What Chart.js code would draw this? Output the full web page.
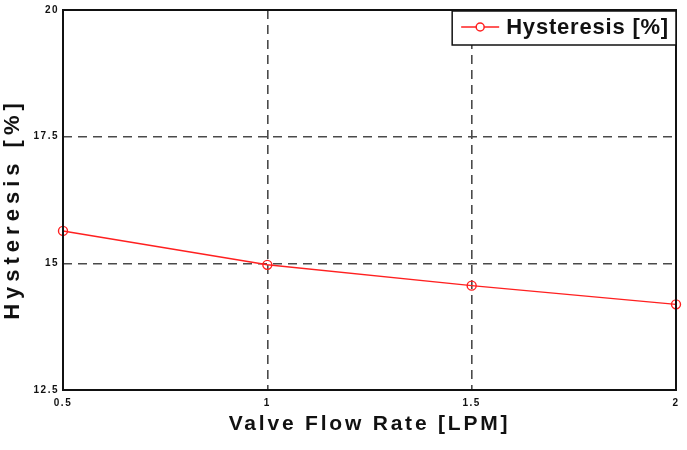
<!DOCTYPE html>
<html>
<head>
<meta charset="utf-8">
<script src="https://cdn.jsdelivr.net/npm/chart.js@4/dist/chart.umd.min.js"></script>
<style>
  html, body { margin: 0; padding: 0; background: #fff; }
  #wrap { width: 687px; height: 450px; }
</style>
</head>
<body>
<div id="wrap"><canvas id="c" width="687" height="450"></canvas></div>
<script>
const flowRates = [0.5, 1, 1.5, 2];
const hysteresis = [15.64, 14.97, 14.56, 14.19];
const xTicks = [0.5, 1, 1.5, 2];
const yTicks = [12.5, 15, 17.5, 20];
const seriesLabel = 'Hysteresis [%]';
const xTitle = 'Valve Flow Rate [LPM]';
const yTitle = 'Hysteresis [%]';

const RED = '#ff2020';
const FONT = '"Liberation Sans", Arial, sans-serif';

const spacing = {
  id: 'spacing',
  beforeDraw(chart) { chart.ctx.letterSpacing = '1.5px'; }
};

const decor = {
  id: 'decor',
  afterDraw(chart) {
    const { ctx, chartArea: a } = chart;
    ctx.save();
    // plot box
    ctx.strokeStyle = '#111';
    ctx.lineWidth = 2;
    ctx.setLineDash([]);
    ctx.strokeRect(a.left, a.top, a.right - a.left, a.bottom - a.top);

    // axis titles
    ctx.fillStyle = '#111';
    ctx.font = 'bold 21px ' + FONT;
    ctx.letterSpacing = '2.8px';
    ctx.textAlign = 'center';
    ctx.textBaseline = 'middle';
    ctx.fillText(xTitle, (a.left + a.right) / 2, 424);
    ctx.save();
    ctx.translate(13, 209);
    ctx.rotate(-Math.PI / 2);
    ctx.font = 'bold 22px ' + FONT;
    ctx.letterSpacing = '5px';
    ctx.fillText(yTitle, 0, 0);
    ctx.restore();

    // legend box
    const ds = chart.data.datasets[0];
    ctx.font = 'bold 22px ' + FONT;
    ctx.letterSpacing = '0.8px';
    const tw = ctx.measureText(ds.label).width;
    const boxW = 61 + tw;
    const boxH = 34;
    const bx = a.right - boxW;
    const by = a.top + 1;
    ctx.fillStyle = '#fff';
    ctx.fillRect(bx, by, boxW, boxH);
    ctx.strokeStyle = '#111';
    ctx.lineWidth = 1.5;
    ctx.strokeRect(bx, by, boxW, boxH);
    const ly = by + boxH / 2 - 1;
    ctx.strokeStyle = ds.borderColor;
    ctx.lineWidth = 1.5;
    ctx.beginPath();
    ctx.moveTo(bx + 9, ly);
    ctx.lineTo(bx + 47, ly);
    ctx.stroke();
    ctx.beginPath();
    ctx.arc(bx + 28, ly, 4, 0, Math.PI * 2);
    ctx.fillStyle = '#fff';
    ctx.fill();
    ctx.stroke();
    ctx.fillStyle = '#111';
    ctx.textAlign = 'left';
    ctx.fillText(ds.label, bx + 54, ly + 1);
    ctx.restore();
  }
};

new Chart(document.getElementById('c'), {
  type: 'line',
  data: {
    datasets: [{
      label: seriesLabel,
      data: flowRates.map((x, i) => ({ x, y: hysteresis[i] })),
      borderColor: RED,
      backgroundColor: 'rgba(0,0,0,0)',
      borderWidth: 1.5,
      pointRadius: 4.5,
      pointBorderWidth: 1.4,
      pointBackgroundColor: 'rgba(0,0,0,0)',
      pointBorderColor: RED,
      tension: 0,
      clip: false
    }]
  },
  options: {
    responsive: false,
    animation: false,
    layout: { padding: { left: 0, right: 11, top: 7, bottom: 0 } },
    plugins: { legend: { display: false }, tooltip: { enabled: false } },
    scales: {
      x: {
        type: 'linear',
        min: 0.5, max: 2,
        afterBuildTicks: s => { s.ticks = xTicks.map(v => ({ value: v })); },
        afterFit: s => { s.height = 60; },
        border: { display: false, dash: [9, 6] },
        grid: {
          drawTicks: false,
          color: c => (c.tick && (c.tick.value === 0.5 || c.tick.value === 2)) ? 'rgba(0,0,0,0)' : '#4a4a4a',
          lineWidth: 1.6
        },
        ticks: {
          padding: 7,
          color: '#111',
          font: { family: FONT, size: 10, weight: 'bold' },
          callback: v => String(v),
          maxRotation: 0
        }
      },
      y: {
        type: 'linear',
        min: 12.5, max: 20,
        afterBuildTicks: s => { s.ticks = yTicks.map(v => ({ value: v })); },
        afterFit: s => { s.width = 63; },
        border: { display: false, dash: [9, 6] },
        grid: {
          drawTicks: false,
          color: c => (c.tick && (c.tick.value === 12.5 || c.tick.value === 20)) ? 'rgba(0,0,0,0)' : '#4a4a4a',
          lineWidth: 1.6
        },
        ticks: {
          padding: 4,
          color: '#111',
          font: { family: FONT, size: 10, weight: 'bold' },
          callback: v => String(v)
        }
      }
    }
  },
  plugins: [spacing, decor]
});
</script>
</body>
</html>
